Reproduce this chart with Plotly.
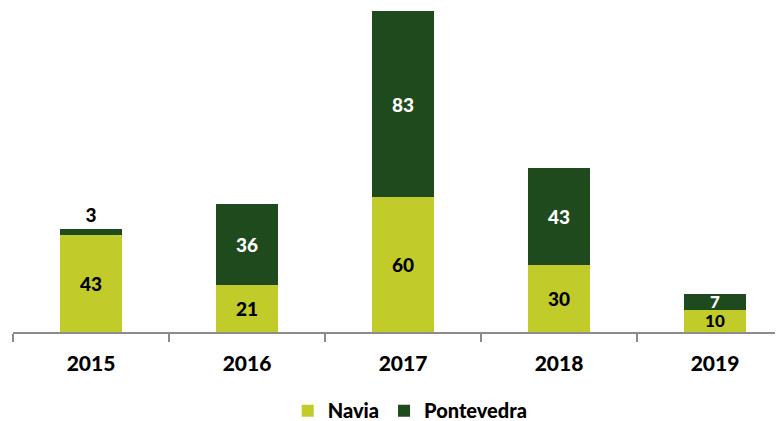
import plotly.graph_objects as go

years = ["2015", "2016", "2017", "2018", "2019"]
navia = [43, 21, 60, 30, 10]
pontevedra = [3, 36, 83, 43, 7]

x = list(range(len(years)))
font_family = "Lato, Carlito, Calibri, sans-serif"
label_sizes = [19, 19, 19, 19, 17]

fig = go.Figure()
fig.add_trace(go.Bar(
    x=x, y=navia, name="Navia", marker=dict(color="#c1cc2b", line=dict(width=0)),
    width=0.4, text=[str(v) for v in navia], textposition="inside", textangle=0,
    insidetextanchor="middle", constraintext="none",
    textfont=dict(family=font_family, size=label_sizes, color="black", weight=900),
))
fig.add_trace(go.Bar(
    x=x, y=pontevedra, name="Pontevedra", marker=dict(color="#1f4a1d", line=dict(width=0)),
    width=0.4, text=[str(v) for v in pontevedra], textangle=0,
    textposition=["outside", "inside", "inside", "inside", "inside"],
    insidetextanchor="middle", constraintext="none",
    textfont=dict(family=font_family, size=label_sizes,
                  color=["black", "white", "white", "white", "white"], weight=900),
    outsidetextfont=dict(family=font_family, size=19, color="black", weight=900),
    cliponaxis=False,
))
fig.add_trace(go.Scatter(x=x, y=[0]*len(x), xaxis="x2", mode="markers",
                         marker=dict(opacity=0), showlegend=False, hoverinfo="skip"))

rng = [-0.5, 4.436]
fig.update_layout(
    barmode="stack",
    width=775, height=413,
    margin=dict(l=5, r=0, t=3, b=89, autoexpand=False),
    paper_bgcolor="white", plot_bgcolor="white",
    showlegend=True,
    legend=dict(orientation="h", xref="container", yref="paper",
                x=0.519, xanchor="center", y=-0.245, yanchor="middle",
                font=dict(family=font_family, size=20, color="black", weight=900),
                itemwidth=30, traceorder="normal"),
    xaxis=dict(range=rng, tickvals=[-0.5, 0.5, 1.5, 2.5, 3.5, 4.5],
               ticktext=["", "", "", "", "", ""], ticks="outside", ticklen=8,
               tickcolor="#8c8c8c", tickwidth=2, showline=True, linecolor="#8c8c8c",
               linewidth=2, showgrid=False, zeroline=False),
    xaxis2=dict(range=rng, overlaying="x", side="bottom", tickvals=x, ticktext=years,
                ticks="", showline=False, showgrid=False, zeroline=False,
                ticklabelstandoff=17,
                tickfont=dict(family=font_family, size=21, color="black", weight=900)),
    yaxis=dict(range=[0, 143], visible=False, showgrid=False, zeroline=False),
)
fig.write_html("out.html")
